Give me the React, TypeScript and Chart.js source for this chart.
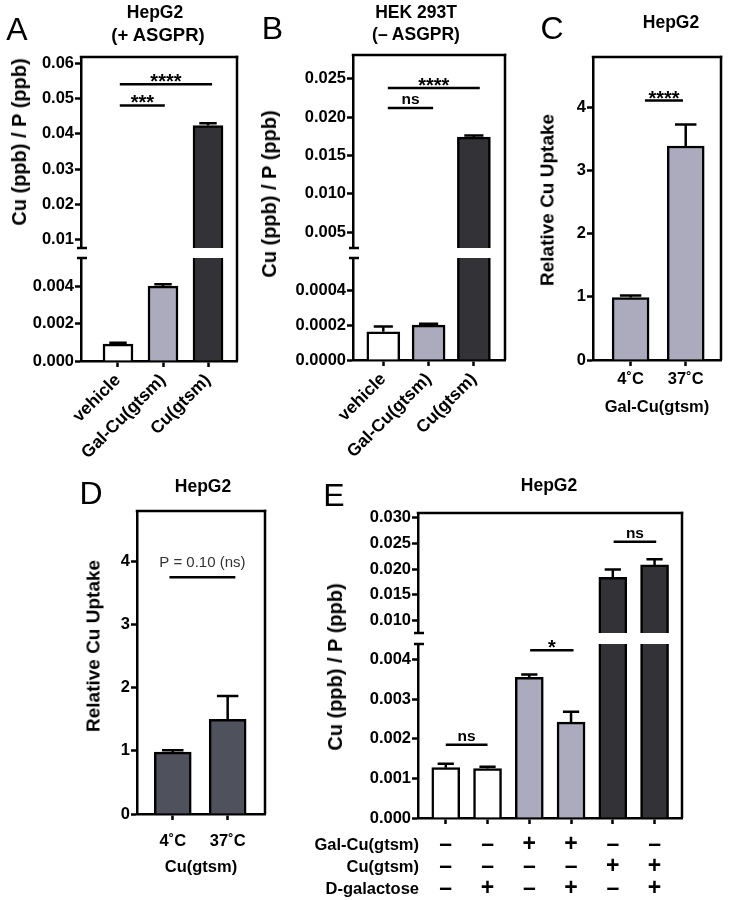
import React, { useEffect, useRef } from 'react';
import { Chart, registerables } from 'chart.js';

Chart.register(...registerables);

const FONT = '"Liberation Sans", Arial, Helvetica, sans-serif';

const WHITE = '#ffffff';
const LIGHT = '#acabbe';
const DARK = '#333337';
const SLATE = '#4f515d';

// ---------- Panel A: HepG2 (+ ASGPR) ----------
const aCategories = ['vehicle', 'Gal-Cu(gtsm)', 'Cu(gtsm)'];
const aMeans = [0.0009, 0.004, 0.0423];
const aSem = [0.00007, 0.0001, 0.0007];
const aUpperTicks = [0.01, 0.02, 0.03, 0.04, 0.05, 0.06];
const aLowerTicks = [0, 0.002, 0.004];
const aSig = [
  { from: 0.04, to: 1.04, y: 0.048, text: '***' },
  { from: 0.04, to: 2.09, y: 0.054, text: '****' },
];

// ---------- Panel B: HEK 293T (– ASGPR) ----------
const bCategories = ['vehicle', 'Gal-Cu(gtsm)', 'Cu(gtsm)'];
const bMeans = [0.000162, 0.0002, 0.0174];
const bSem = [0.00003, 0.000008, 0.0002];
const bUpperTicks = [0.005, 0.01, 0.015, 0.02, 0.025];
const bLowerTicks = [0, 0.0002, 0.0004];
const bSig = [
  { from: 0.1, to: 1.1, y: 0.0212, text: 'ns' },
  { from: 0.1, to: 2.13, y: 0.0238, text: '****' },
];

// ---------- Panel C: HepG2, Gal-Cu(gtsm) ----------
const cCategories = ['4˚C', '37˚C'];
const cMeans = [0.99, 3.39];
const cSem = [0.03, 0.34];
const cTicks = [0, 1, 2, 3, 4];
const cSig = [{ from: 0.26, to: 0.95, y: 4.11, text: '****' }];

// ---------- Panel D: HepG2, Cu(gtsm) ----------
const dCategories = ['4˚C', '37˚C'];
const dMeans = [0.98, 1.5];
const dSem = [0.03, 0.37];
const dTicks = [0, 1, 2, 3, 4];
const dSig = [{ from: -0.06, to: 1.14, y: 3.75, text: 'P = 0.10 (ns)' }];

// ---------- Panel E: HepG2 ----------
const eRowTitles = ['Gal-Cu(gtsm)', 'Cu(gtsm)', 'D-galactose'];
const eGalCu = ['–', '–', '+', '+', '–', '–'];
const eCu = ['–', '–', '–', '–', '+', '+'];
const eDGal = ['–', '+', '–', '+', '–', '+'];
const eMeans = [0.00127, 0.00125, 0.00355, 0.00242, 0.0184, 0.0208];
const eSem = [0.0001, 0.00004, 0.00007, 0.00026, 0.0015, 0.0011];
const eUpperTicks = [0.01, 0.015, 0.02, 0.025, 0.03];
const eLowerTicks = [0, 0.001, 0.002, 0.003, 0.004];
const eSig = [
  { from: 0, to: 1, y: 0.00185, text: 'ns' },
  { from: 2.02, to: 3.06, y: 0.00423, text: '*' },
  { from: 4.02, to: 5.04, y: 0.0253, text: 'ns' },
];

type Sig = { from: number; to: number; y: number; text: string };
type XOpt = {
  height: number;
  rotation: number;
  padding: number;
  title?: string;
  fontSize?: number;
  lineHeight?: number;
  rows?: string[];
};
type Seg = {
  id: string;
  labels: (string | string[])[];
  values: number[];
  errors: number[];
  colors: string[];
  barWidth: number;
  xMin: number;
  xMax: number;
  yMin: number;
  yMax: number;
  yTicks: number[];
  decimals: number;
  area: [number, number, number, number];
  yW: number;
  x?: XOpt;
  frameTop?: boolean;
  gapBelow?: number;
  breakTop?: boolean;
  breakBottom?: boolean;
  sig: Sig[];
};

const PAD = 16;
const LW = 2.5;

function geom(seg: Seg) {
  const [l, t, r, b] = seg.area;
  const left = l - seg.yW;
  const top = t - PAD;
  const right = r + PAD;
  const bottom = b + (seg.x ? seg.x.height : PAD);
  return { left, top, width: right - left, height: bottom - top };
}

function buildConfig(seg: Seg): any {
  const xo = seg.x;
  const deco = {
    id: 'deco',
    afterDatasetsDraw(chart: any) {
      const { ctx, chartArea: a } = chart;
      const xs = chart.scales.x;
      const ys = chart.scales.y;
      ctx.save();
      ctx.beginPath();
      ctx.rect(a.left, a.top, a.right - a.left, a.bottom - a.top);
      ctx.clip();
      ctx.strokeStyle = '#000';
      ctx.lineWidth = LW;
      seg.values.forEach((v, i) => {
        const px = xs.getPixelForValue(i);
        const y0 = ys.getPixelForValue(v);
        const y1 = ys.getPixelForValue(v + seg.errors[i]);
        const cw = seg.barWidth * 0.29;
        ctx.beginPath();
        ctx.moveTo(px, y0);
        ctx.lineTo(px, y1);
        ctx.moveTo(px - cw, y1);
        ctx.lineTo(px + cw, y1);
        ctx.stroke();
      });
      ctx.restore();

      ctx.save();
      ctx.strokeStyle = '#000';
      ctx.lineWidth = LW;
      for (const s of seg.sig) {
        if (s.y < seg.yMin || s.y > seg.yMax) continue;
        const py = ys.getPixelForValue(s.y);
        const x1 = xs.getPixelForValue(s.from);
        const x2 = xs.getPixelForValue(s.to);
        ctx.beginPath();
        ctx.moveTo(x1, py);
        ctx.lineTo(x2, py);
        ctx.stroke();
        const isStar = /^\*+$/.test(s.text);
        const isP = s.text.startsWith('P');
        ctx.font = isStar ? `bold 20px ${FONT}` : isP ? `15px ${FONT}` : `bold 15.5px ${FONT}`;
        ctx.fillStyle = isP ? '#333' : '#000';
        ctx.textAlign = 'center';
        ctx.textBaseline = 'alphabetic';
        ctx.fillText(s.text, (x1 + x2) / 2, py + (isStar ? 4 : isP ? -10 : -4));
      }
      ctx.restore();
    },
    afterDraw(chart: any) {
      const { ctx, chartArea: a } = chart;
      ctx.save();
      ctx.strokeStyle = '#000';
      ctx.lineWidth = LW;
      ctx.lineCap = 'square';
      if (seg.frameTop) {
        ctx.beginPath();
        ctx.moveTo(a.left, a.top);
        ctx.lineTo(a.right, a.top);
        ctx.stroke();
      }
      ctx.lineCap = 'butt';
      ctx.beginPath();
      ctx.moveTo(a.right, a.top - (seg.frameTop ? LW / 2 : 0));
      ctx.lineTo(a.right, a.bottom + (seg.gapBelow || 0));
      ctx.stroke();
      if (seg.breakBottom) {
        ctx.beginPath();
        ctx.moveTo(a.left - 4, a.bottom);
        ctx.lineTo(a.left + 6, a.bottom);
        ctx.stroke();
      }
      if (seg.breakTop) {
        ctx.beginPath();
        ctx.moveTo(a.left - 4, a.top);
        ctx.lineTo(a.left + 6, a.top);
        ctx.stroke();
      }
      if (xo && xo.rows) {
        const xs = chart.scales.x;
        const lh = xo.lineHeight || 22;
        ctx.font = `bold 16.5px ${FONT}`;
        ctx.fillStyle = '#000';
        ctx.textAlign = 'right';
        ctx.textBaseline = 'middle';
        xo.rows.forEach((r, k) => {
          ctx.fillText(r, a.left + 1, xs.top + 6 + xo.padding + lh * (k + 0.5));
        });
      }
      ctx.restore();
    },
  };

  const tickFont = { family: FONT, size: 16.5, weight: 'bold' as const };

  return {
    type: 'bar',
    data: {
      datasets: [
        {
          data: seg.values.map((v, i) => ({ x: i, y: v })),
          backgroundColor: seg.colors,
          borderColor: '#000',
          borderWidth: LW,
          borderSkipped: 'start',
          barThickness: seg.barWidth,
          clip: 0,
        },
      ],
    },
    options: {
      responsive: false,
      animation: false,
      events: [],
      layout: {
        autoPadding: false,
        padding: { left: 0, top: PAD, right: PAD, bottom: xo ? 0 : PAD },
      },
      plugins: {
        legend: { display: false },
        tooltip: { enabled: false },
        title: { display: false },
      },
      scales: {
        x: {
          type: 'linear',
          min: seg.xMin,
          max: seg.xMax,
          display: !!xo,
          offset: false,
          grid: {
            offset: false,
            drawOnChartArea: false,
            drawTicks: true,
            tickLength: 6,
            tickWidth: LW,
            tickColor: '#000',
          },
          border: { display: true, width: LW, color: '#000' },
          afterBuildTicks: (s: any) => {
            s.ticks = seg.labels.map((_, i) => ({ value: i }));
          },
          afterFit: (s: any) => {
            if (xo) s.height = xo.height;
          },
          ticks: {
            autoSkip: false,
            maxRotation: xo ? xo.rotation : 0,
            minRotation: xo ? xo.rotation : 0,
            padding: xo ? xo.padding : 0,
            color: '#000',
            font: {
              family: FONT,
              size: xo && xo.fontSize ? xo.fontSize : 16.5,
              weight: 'bold',
              lineHeight: xo && xo.lineHeight ? `${xo.lineHeight}px` : 1.2,
            },
            callback: (_v: any, i: number) => seg.labels[i],
          },
          title: xo && xo.title
            ? {
                display: true,
                text: xo.title,
                color: '#000',
                padding: 0,
                font: { family: FONT, size: 16.5, weight: 'bold', lineHeight: '20px' },
              }
            : { display: false },
        },
        y: {
          type: 'linear',
          min: seg.yMin,
          max: seg.yMax,
          afterBuildTicks: (s: any) => {
            s.ticks = seg.yTicks.map((v) => ({ value: v }));
          },
          afterFit: (s: any) => {
            s.width = seg.yW;
          },
          grid: {
            drawOnChartArea: false,
            drawTicks: true,
            tickLength: 6,
            tickWidth: LW,
            tickColor: '#000',
          },
          border: { display: true, width: LW, color: '#000' },
          ticks: {
            padding: 1,
            color: '#000',
            font: tickFont,
            callback: (v: any) => Number(v).toFixed(seg.decimals),
          },
        },
      },
    },
    plugins: [deco],
  };
}

function SegChart({ seg }: { seg: Seg }) {
  const ref = useRef<HTMLCanvasElement | null>(null);
  const g = geom(seg);
  useEffect(() => {
    const chart = new Chart(ref.current as HTMLCanvasElement, buildConfig(seg));
    return () => chart.destroy();
  }, []);
  return (
    <canvas
      ref={ref}
      width={g.width}
      height={g.height}
      style={{ position: 'absolute', left: g.left, top: g.top, width: g.width, height: g.height }}
    />
  );
}

const abColors = [WHITE, LIGHT, DARK];
const eColors = [WHITE, WHITE, LIGHT, LIGHT, DARK, DARK];

const segments: Seg[] = [
  {
    id: 'aU', labels: aCategories, values: aMeans, errors: aSem, colors: abColors,
    barWidth: 30, xMin: -0.822, xMax: 2.644, yMin: 0.0077, yMax: 0.0617, yTicks: aUpperTicks,
    decimals: 2, area: [81, 57, 237, 248], yW: 70, frameTop: true, gapBelow: 10, breakBottom: true, sig: aSig,
  },
  {
    id: 'aL', labels: aCategories, values: aMeans, errors: aSem, colors: abColors,
    barWidth: 30, xMin: -0.822, xMax: 2.644, yMin: 0, yMax: 0.0055, yTicks: aLowerTicks,
    decimals: 3, area: [81, 258, 237, 361], yW: 70, breakTop: true, sig: aSig,
    x: { height: 100, rotation: 45, padding: 3, fontSize: 17.5 },
  },
  {
    id: 'bU', labels: bCategories, values: bMeans, errors: bSem, colors: abColors,
    barWidth: 33, xMin: -0.669, xMax: 2.687, yMin: 0.00295, yMax: 0.0281, yTicks: bUpperTicks,
    decimals: 3, area: [353, 55, 505, 248], yW: 75, frameTop: true, gapBelow: 10, breakBottom: true, sig: bSig,
  },
  {
    id: 'bL', labels: bCategories, values: bMeans, errors: bSem, colors: abColors,
    barWidth: 33, xMin: -0.669, xMax: 2.687, yMin: 0, yMax: 0.000585, yTicks: bLowerTicks,
    decimals: 4, area: [353, 258, 505, 360], yW: 75, breakTop: true, sig: bSig,
    x: { height: 100, rotation: 45, padding: 3, fontSize: 17.5 },
  },
  {
    id: 'c', labels: cCategories, values: cMeans, errors: cSem, colors: [LIGHT, LIGHT],
    barWidth: 37, xMin: -0.682, xMax: 1.64, yMin: 0, yMax: 4.8, yTicks: cTicks,
    decimals: 0, area: [593, 57, 721, 360], yW: 40, frameTop: true, sig: cSig,
    x: { height: 57, rotation: 0, padding: 4, title: 'Gal-Cu(gtsm)' },
  },
  {
    id: 'd', labels: dCategories, values: dMeans, errors: dSem, colors: [SLATE, SLATE],
    barWidth: 37, xMin: -0.651, xMax: 1.68, yMin: 0, yMax: 4.8, yTicks: dTicks,
    decimals: 0, area: [137, 511, 265, 814], yW: 40, frameTop: true, sig: dSig,
    x: { height: 63, rotation: 0, padding: 12, title: 'Cu(gtsm)' },
  },
  {
    id: 'eU', labels: eGalCu.map((g, i) => [g, eCu[i], eDGal[i]]), values: eMeans, errors: eSem, colors: eColors,
    barWidth: 28, xMin: -0.665, xMax: 5.657, yMin: 0.00756, yMax: 0.0309, yTicks: eUpperTicks,
    decimals: 3, area: [418, 513, 682, 633], yW: 115, frameTop: true, gapBelow: 11, breakBottom: true, sig: eSig,
  },
  {
    id: 'eL', labels: eGalCu.map((g, i) => [g, eCu[i], eDGal[i]]), values: eMeans, errors: eSem, colors: eColors,
    barWidth: 28, xMin: -0.665, xMax: 5.657, yMin: 0, yMax: 0.00439, yTicks: eLowerTicks,
    decimals: 3, area: [418, 644, 682, 818], yW: 115, breakTop: true, sig: eSig,
    x: { height: 82, rotation: 0, padding: 10, fontSize: 23, lineHeight: 22, rows: eRowTitles },
  },
];

type Txt = { t: string; x: number; y: number; size: number; bold?: boolean; rot?: boolean };
const texts: Txt[] = [
  { t: 'A', x: 17, y: 29, size: 32 },
  { t: 'HepG2', x: 155, y: 12.5, size: 17.5, bold: true },
  { t: '(+ ASGPR)', x: 158, y: 35, size: 18.5, bold: true },
  { t: 'Cu (ppb) / P (ppb)', x: 18.5, y: 142, size: 20, bold: true, rot: true },
  { t: 'B', x: 272.5, y: 28, size: 32 },
  { t: 'HEK 293T', x: 416, y: 13.3, size: 17.5, bold: true },
  { t: '(– ASGPR)', x: 416, y: 35, size: 17.5, bold: true },
  { t: 'Cu (ppb) / P (ppb)', x: 269, y: 194, size: 20, bold: true, rot: true },
  { t: 'C', x: 552, y: 28.3, size: 32 },
  { t: 'HepG2', x: 671, y: 22.5, size: 17.5, bold: true },
  { t: 'Relative Cu Uptake', x: 546.5, y: 200, size: 19, bold: true, rot: true },
  { t: 'D', x: 91, y: 493, size: 32 },
  { t: 'HepG2', x: 203, y: 487, size: 17.5, bold: true },
  { t: 'Relative Cu Uptake', x: 92.5, y: 646, size: 19, bold: true, rot: true },
  { t: 'E', x: 334, y: 495, size: 32 },
  { t: 'HepG2', x: 549, y: 486, size: 17.5, bold: true },
  { t: 'Cu (ppb) / P (ppb)', x: 334.5, y: 667, size: 20, bold: true, rot: true },
];

export default function App() {
  return (
    <div
      style={{
        position: 'absolute',
        left: 0,
        top: 0,
        width: 732,
        height: 900,
        background: '#fff',
        overflow: 'hidden',
        fontFamily: FONT,
        color: '#000',
      }}
    >
      {segments.map((s) => (
        <SegChart key={s.id} seg={s} />
      ))}
      {texts.map((t, i) => (
        <div
          key={i}
          style={{
            position: 'absolute',
            left: t.x,
            top: t.y,
            transform: `translate(-50%, -50%)${t.rot ? ' rotate(-90deg)' : ''}`,
            fontSize: t.size,
            fontWeight: t.bold ? 700 : 400,
            lineHeight: 1,
            whiteSpace: 'nowrap',
          }}
        >
          {t.t}
        </div>
      ))}
    </div>
  );
}
